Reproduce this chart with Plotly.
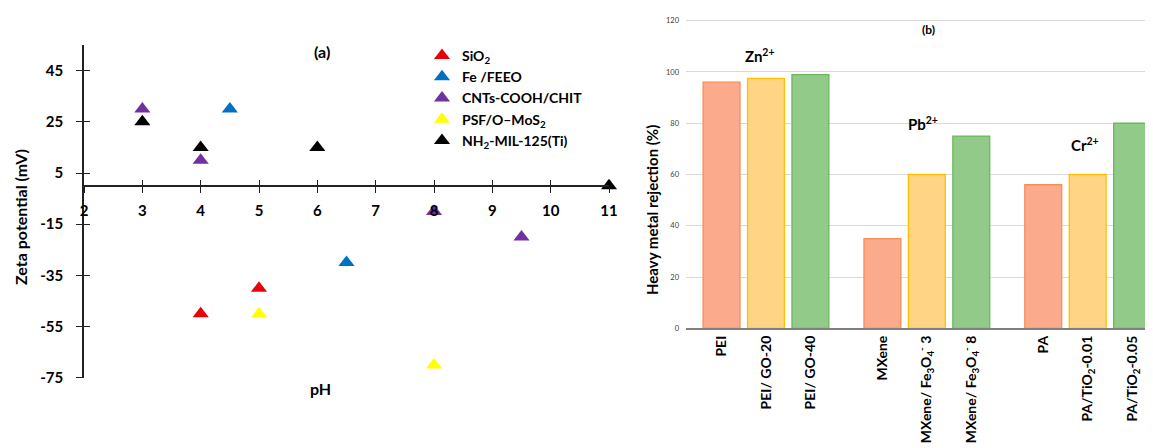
import plotly.graph_objects as go

W, H = 1153, 448
OFF = 8  # page offset of the plot div inside the browser window

# ---------------- Left chart data (a) ----------------
ph_sio2 = [4, 5]
zeta_sio2 = [-50, -40]
ph_fe = [4.5, 6.5]
zeta_fe = [30, -30]
ph_cnt = [3, 4, 8, 9.5]
zeta_cnt = [30, 10, -10, -20]
ph_psf = [5, 8]
zeta_psf = [-50, -70]
ph_nh2 = [3, 4, 6, 11]
zeta_nh2 = [25, 15, 15, 0]

zeta_tickvals = [-75, -55, -35, -15, 5, 25, 45]
zeta_ticktext = ["-75", "-55", "-35", "-15", "5", "25", "45"]

series_names = ["SiO<sub>2</sub>", "Fe /FEEO", "CNTs-COOH/CHIT",
                "PSF/O\u2013MoS<sub>2</sub>", "NH<sub>2</sub>-MIL-125(Ti)"]
series_x = [ph_sio2, ph_fe, ph_cnt, ph_psf, ph_nh2]
series_y = [zeta_sio2, zeta_fe, zeta_cnt, zeta_psf, zeta_nh2]
series_colors = ["#E8000B", "#0070C0", "#7030A0", "#FFFF00", "#000000"]

# ---------------- Right chart data (b) ----------------
ions = ["Zn<sup>2+</sup>", "Pb<sup>2+</sup>", "Cr<sup>2+</sup>"]
membranes = [
    ["PEI", "PEI/ GO-20", "PEI/ GO-40"],
    ["MXene", "MXene/ Fe<sub>3</sub>O<sub>4</sub><sup>-</sup> 3", "MXene/ Fe<sub>3</sub>O<sub>4</sub><sup>-</sup> 8"],
    ["PA", "PA/TiO<sub>2</sub>-0.01", "PA/TiO<sub>2</sub>-0.05"],
]
rejection = [
    [96, 97.5, 99],
    [35, 60, 75],
    [56, 60, 80],
]
bar_fill = ["#FBAA8B", "#FFD585", "#92CB89"]
bar_line = ["#F58D5A", "#FFC000", "#6BB85C"]

FONT = "Lato"

def px(x):
    return (x - OFF) / W

def py(y):
    return 1 - (y - OFF) / H

fig = go.Figure()

# ---------- left scatter ----------
for name, xs, ys, c in zip(series_names, series_x, series_y, series_colors):
    fig.add_trace(go.Scatter(
        x=xs, y=ys, mode="markers", name=name,
        marker=dict(symbol="triangle-up", size=14, color=c),
        xaxis="x", yaxis="y", cliponaxis=False,
    ))
# helper trace so the overlay (inner tick) axes are drawn
fig.add_trace(go.Scatter(x=[], y=[], xaxis="x3", yaxis="y3", showlegend=False,
                         hoverinfo="skip"))

# ---------- right bars ----------
GROUP_STEP = 3.62
bar_pos = [[g * GROUP_STEP + i for i in range(3)] for g in range(3)]
for i in range(3):
    fig.add_trace(go.Bar(
        x=[bar_pos[g][i] for g in range(3)],
        y=[rejection[g][i] for g in range(3)],
        width=0.83,
        marker=dict(color=bar_fill[i], line=dict(color=bar_line[i], width=1.3)),
        xaxis="x2", yaxis="y2", showlegend=False,
    ))

tick_positions = [p for grp in bar_pos for p in grp]
tick_labels = [m for grp in membranes for m in grp]

# left plot geometry (pixels)
LX0, LX1 = 84, 609
LY_TOP, LY_BOT = 45.1, 377.7
YMIN, YMAX = -75, 55
ly0, ly1 = py(LY_BOT), py(LY_TOP)
x_axis_pos = ly0 + (0 - YMIN) / (YMAX - YMIN) * (ly1 - ly0)

# right plot geometry
RX0, RX1 = 686, 1153
RY0, RY120 = 328.3, 20.7
R_TOP = 121
ry0 = py(RY0)
ry1 = ry0 + (py(RY120) - ry0) * R_TOP / 120

bold = dict(family=FONT, color="black", weight="bold")

fig.update_layout(
    width=W, height=H,
    margin=dict(l=0, r=0, t=0, b=0, autoexpand=False),
    paper_bgcolor="white", plot_bgcolor="rgba(0,0,0,0)",
    font=dict(family=FONT, color="black"),
    barmode="overlay",
    xaxis=dict(domain=[px(LX0), px(LX1)], range=[2, 11], anchor="free",
               position=x_axis_pos, showgrid=False, zeroline=False,
               showline=True, linecolor="#222", linewidth=1.6,
               tickmode="linear", tick0=2, dtick=1,
               ticks="outside", ticklen=6, tickwidth=1.4, tickcolor="#222",
               tickfont=dict(size=15, **bold), ticklabelstandoff=5),
    xaxis3=dict(domain=[px(LX0), px(LX1)], range=[2, 11], anchor="free",
                overlaying="x", position=x_axis_pos, showgrid=False,
                zeroline=False, showline=False, showticklabels=False,
                tickmode="linear", tick0=2, dtick=1,
                ticks="inside", ticklen=6, tickwidth=1.4, tickcolor="#222"),
    yaxis=dict(domain=[ly0, ly1], range=[YMIN, YMAX], anchor="x",
               showgrid=False, zeroline=False,
               showline=True, linecolor="#222", linewidth=1.6,
               tickmode="array", tickvals=zeta_tickvals, ticktext=zeta_ticktext,
               ticks="outside", ticklen=6, tickwidth=1.4, tickcolor="#222",
               tickfont=dict(size=15, **bold), ticklabelstandoff=10),
    yaxis3=dict(domain=[ly0, ly1], range=[YMIN, YMAX], anchor="x3",
                overlaying="y", showgrid=False, zeroline=False,
                showline=False, showticklabels=False,
                tickmode="array", tickvals=zeta_tickvals,
                ticks="inside", ticklen=6, tickwidth=1.4, tickcolor="#222"),
    xaxis2=dict(domain=[px(RX0), px(RX1)], range=[-0.80, 9.71], anchor="y2",
                showgrid=False, zeroline=False, showline=True,
                linecolor="#7F7F7F", linewidth=1.6,
                tickmode="array", tickvals=tick_positions, ticktext=tick_labels,
                tickangle=-90, tickfont=dict(size=14, **bold), ticks=""),
    yaxis2=dict(domain=[ry0, ry1], range=[0, R_TOP], anchor="x2",
                showgrid=True, gridcolor="#D9D9D9", gridwidth=1.2,
                zeroline=False, showline=False,
                tickmode="linear", tick0=0, dtick=20,
                tickfont=dict(size=7.5, family=FONT, color="#404040"),
                ticklabelstandoff=6),
    legend=dict(x=px(422), y=py(40), xanchor="left", yanchor="top",
                bgcolor="rgba(0,0,0,0)", font=dict(size=14, **bold),
                itemwidth=30, tracegroupgap=0),
)

annotations = [
    dict(text="(a)", x=px(322), y=py(51), font=dict(size=16, **bold)),
    dict(text="pH", x=px(320), y=py(388), font=dict(size=16, **bold)),
    dict(text="Zeta potential (mV)", x=px(20), y=py(217), textangle=-90,
         font=dict(size=16, **bold)),
    dict(text="(b)", x=px(928), y=py(29), font=dict(size=12, **bold)),
    dict(text="Heavy metal rejection (%)", x=px(652), y=py(210), textangle=-90,
         font=dict(size=15, **bold)),
    dict(text=ions[0], x=px(760), y=py(55), font=dict(size=15, **bold)),
    dict(text=ions[1], x=px(923), y=py(123), font=dict(size=15, **bold)),
    dict(text=ions[2], x=px(1085), y=py(144), font=dict(size=15, **bold)),
]
for a in annotations:
    a.update(xref="paper", yref="paper", showarrow=False,
             xanchor="center", yanchor="middle")
fig.update_layout(annotations=annotations)

fig.write_html("out.html")
